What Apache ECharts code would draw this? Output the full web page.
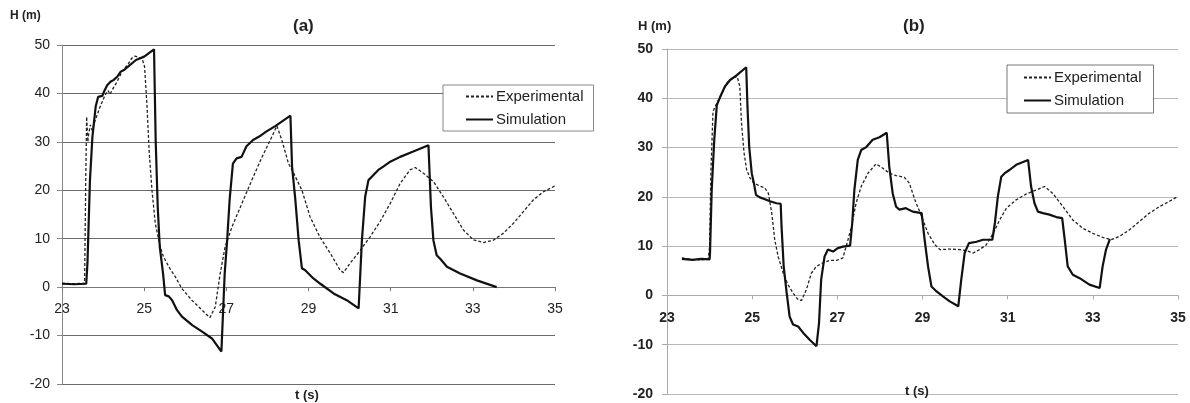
<!DOCTYPE html>
<html>
<head>
<meta charset="utf-8">
<script src="https://cdn.jsdelivr.net/npm/echarts@6/dist/echarts.min.js"></script>
<style>
html,body{margin:0;padding:0;background:#fff;}
#c{width:1190px;height:403px;}
</style>
</head>
<body>
<div id="c"></div>
<script>
// ---- data: [t (s), H (m)] ----
const expA = [[23.0,0.8],[23.3,0.7],[23.55,0.8],[23.58,23.5],[23.6,35.2],[23.63,30],[23.65,31.7],[23.69,33.5],[23.73,32.4],[23.81,34.5],[23.93,37.3],[24.05,39.7],[24.12,40.6],[24.17,39.8],[24.22,40.7],[24.34,42.4],[24.46,44.5],[24.62,46.2],[24.7,47.3],[24.78,47.7],[24.95,47.2],[25.01,45.5],[25.07,37.3],[25.12,28.3],[25.19,20],[25.27,13.2],[25.39,8.3],[25.47,6.3],[25.6,4.2],[25.76,2.1],[25.92,-0.3],[26.16,-2.7],[26.41,-4.75],[26.6,-6.3],[26.73,-4.1],[26.85,2.8],[26.97,8.3],[27.14,12.5],[27.38,17.3],[27.62,22.1],[27.87,26.9],[28.11,31.1],[28.23,33.3],[28.35,30.4],[28.51,25.6],[28.64,23.5],[28.84,20.0],[29.04,14.5],[29.28,10.3],[29.53,7],[29.77,3.5],[29.85,3.0],[30.01,4.9],[30.26,7.6],[30.5,10.4],[30.74,13.5],[30.99,17.3],[31.23,21.4],[31.47,24.2],[31.6,24.7],[31.8,23.5],[32.04,21.8],[32.28,18.7],[32.53,15.2],[32.77,11.8],[33.01,9.8],[33.26,9.2],[33.5,9.7],[33.74,11.1],[33.99,13.2],[34.23,15.6],[34.47,18],[34.72,19.7],[35,20.9]];
const simA = [[23.0,0.7],[23.3,0.6],[23.59,0.7],[23.62,5],[23.68,22],[23.74,31],[23.82,37.3],[23.88,39.3],[23.98,39.5],[24.03,40.5],[24.1,41.7],[24.18,42.4],[24.26,42.8],[24.35,43.5],[24.43,44.5],[24.52,44.9],[24.6,45.5],[24.8,46.9],[25.0,47.6],[25.24,49.1],[25.28,30.4],[25.33,16.6],[25.38,8.3],[25.46,2.8],[25.51,-1.65],[25.6,-1.9],[25.68,-2.7],[25.8,-4.75],[25.92,-6.1],[26.17,-7.85],[26.41,-9.2],[26.65,-10.6],[26.88,-13.3],[26.96,2.8],[27.02,9.7],[27.08,18],[27.16,25.5],[27.25,26.6],[27.37,26.9],[27.49,29.1],[27.65,30.4],[27.8,31.1],[27.97,32.1],[28.2,33.3],[28.56,35.4],[28.6,24.9],[28.68,18],[28.76,9.7],[28.84,3.9],[28.92,3.5],[29.12,1.8],[29.28,0.75],[29.61,-1.3],[29.93,-2.7],[30.22,-4.4],[30.3,9.7],[30.38,18.7],[30.46,22.1],[30.54,22.8],[30.7,24.2],[30.82,24.9],[30.99,25.9],[31.23,26.9],[31.55,28],[31.92,29.3],[31.98,16.6],[32.04,9.7],[32.12,6.6],[32.2,5.9],[32.37,4.2],[32.69,2.8],[33.1,1.4],[33.58,0]];
const expB = [[23.35,7.6],[23.6,7.3],[23.8,7.2],[23.97,7.4],[24.0,9.9],[24.03,24.8],[24.08,37.3],[24.13,38.3],[24.21,39.7],[24.29,41],[24.4,43],[24.52,44.1],[24.65,44.4],[24.71,42.4],[24.75,34.9],[24.81,28.9],[24.87,25.5],[24.95,23.8],[25.04,22.8],[25.18,22.2],[25.3,21.8],[25.38,20.7],[25.46,16.7],[25.53,11.3],[25.61,7.9],[25.73,4.5],[25.84,2.2],[25.96,0.5],[26.08,-0.9],[26.16,-1.0],[26.27,1.1],[26.39,4.5],[26.51,5.9],[26.66,6.6],[26.82,7.1],[26.98,7.1],[27.13,7.6],[27.25,11.3],[27.33,13.9],[27.44,18.7],[27.56,22.1],[27.72,24.8],[27.91,26.7],[28.07,25.8],[28.22,24.8],[28.38,24.3],[28.57,24],[28.69,22.8],[28.82,19.4],[28.98,16],[29.13,12.6],[29.29,10.3],[29.41,9.3],[29.64,9.4],[29.88,9.3],[30.03,9.1],[30.19,8.6],[30.34,9.3],[30.5,10.3],[30.66,12.6],[30.81,15.3],[30.97,17.7],[31.2,19.4],[31.44,20.6],[31.67,21.4],[31.87,22.1],[32.06,20.7],[32.3,18],[32.53,15.3],[32.77,13.6],[33,12.6],[33.23,11.8],[33.43,11.3],[33.63,12],[33.86,13.3],[34.09,15],[34.33,16.7],[34.56,18],[34.8,19.1],[35,20.1]];
const simB = [[23.35,7.4],[23.6,7.2],[23.8,7.4],[24.0,7.3],[24.01,8.6],[24.05,21.4],[24.11,31.6],[24.17,38.6],[24.25,40.3],[24.36,42.4],[24.48,43.7],[24.64,44.7],[24.86,46.3],[24.89,38.3],[24.93,30.2],[24.99,24.8],[25.04,22.8],[25.09,20.4],[25.18,19.9],[25.3,19.5],[25.42,19.1],[25.57,18.7],[25.67,18.6],[25.69,14],[25.74,5.9],[25.81,0.5],[25.88,-4.3],[25.96,-5.9],[26.08,-6.3],[26.2,-7.6],[26.35,-9],[26.51,-10.3],[26.57,-5.6],[26.62,3.2],[26.7,7.9],[26.78,9.3],[26.9,8.9],[27.01,9.6],[27.13,9.9],[27.3,10.1],[27.35,14.7],[27.4,21.4],[27.48,27.5],[27.56,29.5],[27.68,30.1],[27.83,31.6],[27.99,32.1],[28.16,33],[28.22,26.1],[28.3,20.7],[28.38,18],[28.46,17.4],[28.61,17.7],[28.77,17],[28.98,16.7],[29.05,11.3],[29.13,5.9],[29.21,1.8],[29.33,0.8],[29.48,-0.2],[29.64,-1.2],[29.84,-2.2],[29.91,3.2],[29.99,8.6],[30.09,10.6],[30.27,10.9],[30.42,11.3],[30.64,11.3],[30.7,14.7],[30.77,20.1],[30.85,24.1],[30.93,24.8],[31.05,25.5],[31.2,26.5],[31.48,27.5],[31.55,22.1],[31.63,18.7],[31.71,17],[31.83,16.7],[31.98,16.4],[32.14,15.9],[32.28,15.7],[32.34,11.3],[32.41,5.9],[32.53,4.2],[32.69,3.5],[32.92,2.2],[33.16,1.5],[33.23,5.9],[33.31,9.3],[33.4,11.4]];
const seriesNames = ['Experimental', 'Simulation'];
const panelTitles = ['(a)', '(b)'];
const yTitle = 'H (m)';
const xTitle = 't (s)';
const tRange = [23, 35, 2];
const hRange = [-20, 50, 10];

const FONT = '"Liberation Sans", Arial, sans-serif';
const chart = echarts.init(document.getElementById('c'), null, {renderer: 'canvas'});

const gridA = {left: 62, top: 45, width: 493, height: 339};
const gridB = {left: 667, top: 49, width: 511, height: 345};
// distance of H=0 above the bottom of each plot area (derived from the axis range)
function zeroOffset(g) { return g.height * (0 - hRange[0]) / (hRange[1] - hRange[0]); }

function xAx(g, grid, bold, col, margin) {
  return {
    type: 'value', gridIndex: g, min: tRange[0], max: tRange[1], interval: tRange[2],
    offset: -zeroOffset(grid),
    axisLine: {show: true, onZero: false, lineStyle: {color: col, width: 1}},
    axisTick: {show: true, length: 4, lineStyle: {color: col}},
    axisLabel: {fontSize: 14, fontWeight: bold ? 'bold' : 'normal', color: '#222', fontFamily: FONT, margin: margin},
    splitLine: {show: false}
  };
}
function yAx(g, bold, col, gridCol, margin) {
  return {
    type: 'value', gridIndex: g, min: hRange[0], max: hRange[1], interval: hRange[2],
    axisLine: {show: true, onZero: false, lineStyle: {color: col, width: 1}},
    axisTick: {show: true, length: 5, lineStyle: {color: col}},
    axisLabel: {fontSize: 14, fontWeight: bold ? 'bold' : 'normal', color: '#222', fontFamily: FONT, margin: margin},
    splitLine: {show: true, lineStyle: {color: gridCol, width: 1}}
  };
}
const expStyle = {color: '#222', width: 1.3, type: [3, 2]};
const simStyle = {color: '#111', width: 2.2, type: 'solid'};

function legend(left, top, padding, borderCol) {
  return {
    orient: 'vertical', left: left, top: top, padding: padding,
    itemWidth: 27, itemHeight: 14, itemGap: 8,
    borderColor: borderCol, borderWidth: 1, backgroundColor: '#fff',
    data: seriesNames,
    itemStyle: {opacity: 0, color: 'transparent', borderWidth: 0},
    textStyle: {fontSize: 15, color: '#222', fontFamily: FONT, lineHeight: 14, padding: [0,0,0,-2]}
  };
}

const option = {
  animation: false,
  backgroundColor: '#fff',
  title: [
    {text: panelTitles[0], left: 293, top: 18, padding: 0, textStyle: {fontSize: 17, fontWeight: 'bold', color: '#222', fontFamily: FONT}},
    {text: panelTitles[1], left: 903, top: 18, padding: 0, textStyle: {fontSize: 17, fontWeight: 'bold', color: '#222', fontFamily: FONT}},
    {text: yTitle, left: 10, top: 10, padding: 0, textStyle: {fontSize: 12, fontWeight: 'bold', color: '#222', fontFamily: FONT}},
    {text: yTitle, left: 638, top: 20, padding: 0, textStyle: {fontSize: 13, fontWeight: 'bold', color: '#222', fontFamily: FONT}},
    {text: xTitle, left: 295, top: 389, padding: 0, textStyle: {fontSize: 13, fontWeight: 'bold', color: '#222', fontFamily: FONT}},
    {text: xTitle, left: 905, top: 385, padding: 0, textStyle: {fontSize: 13, fontWeight: 'bold', color: '#222', fontFamily: FONT}}
  ],
  grid: [
    Object.assign({containLabel: false}, gridA),
    Object.assign({containLabel: false}, gridB)
  ],
  xAxis: [xAx(0, gridA, false, '#777', 15), xAx(1, gridB, true, '#aaa', 16)],
  yAxis: [yAx(0, false, '#888', '#6a6a6a', 12), yAx(1, true, '#aaa', '#b8b8b8', 14)],
  legend: [
    legend(443, 85, [4, 10, 4, 22], '#888'),
    legend(1007, 65, [5, 12, 5, 16], '#777')
  ],
  series: [
    {name: seriesNames[0], type: 'line', xAxisIndex: 0, yAxisIndex: 0, data: expA, symbol: 'none', lineStyle: expStyle, itemStyle: {color: '#222'}},
    {name: seriesNames[1], type: 'line', xAxisIndex: 0, yAxisIndex: 0, data: simA, symbol: 'none', lineStyle: simStyle, itemStyle: {color: '#111'}},
    {name: seriesNames[0], type: 'line', xAxisIndex: 1, yAxisIndex: 1, data: expB, symbol: 'none', lineStyle: expStyle, itemStyle: {color: '#222'}},
    {name: seriesNames[1], type: 'line', xAxisIndex: 1, yAxisIndex: 1, data: simB, symbol: 'none', lineStyle: simStyle, itemStyle: {color: '#111'}}
  ]
};
chart.setOption(option);
</script>
</body>
</html>
